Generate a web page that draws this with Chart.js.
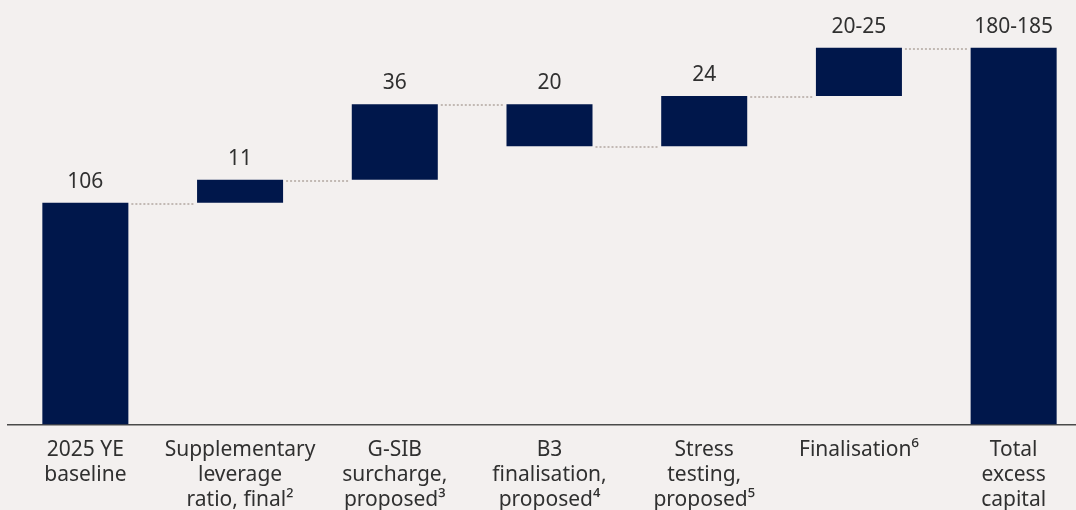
<!DOCTYPE html>
<html>
<head>
<meta charset="utf-8">
<script src="https://cdn.jsdelivr.net/npm/chart.js@4.4.1/dist/chart.umd.min.js"></script>
<style>
	html, body { margin: 0; padding: 0; background: #f3f0ef; overflow: hidden; }
	#wrap { width: 1100px; height: 526px; }
</style>
</head>
<body>
<div id="wrap"><canvas id="canvas1"></canvas></div>
<script>
// waterfall steps, left to right
var categories = [
	['2025 YE', 'baseline'],
	['Supplementary', 'leverage', 'ratio, final\u00b2'],
	['G-SIB', 'surcharge,', 'proposed\u00b3'],
	['B3', 'finalisation,', 'proposed\u2074'],
	['Stress', 'testing,', 'proposed\u2075'],
	['Finalisation\u2076'],
	['Total', 'excess', 'capital']
];
var changes = [106, 11, 36, -20, 24, 23];
var valueLabels = ['106', '11', '36', '20', '24', '20-25', '180-185'];

var barColor = '#00174b';
var textColor = '#303030';
var dotColor = '#c2b9b4';

// floating bars: [start, end] for each step, total from zero
var floats = [];
var levels = [];
var running = 0;
for (var i = 0; i < changes.length; i++)
{
	var start = (i == 0) ? 0 : running;
	running += changes[i];
	floats.push([Math.min(start, running), Math.max(start, running)]);
	levels.push(running);
}
floats.push([0, running]);

// dotted connectors between neighbouring bars
var connectors = {
	id: 'connectors',
	afterDatasetsDraw: function (chart) {
		var ctx = chart.ctx;
		var meta = chart.getDatasetMeta(0);
		var y = chart.scales.y;
		ctx.save();
		ctx.strokeStyle = dotColor;
		ctx.lineWidth = 2;
		ctx.setLineDash([2, 2]);
		for (var i = 0; i < levels.length; i++)
		{
			var a = meta.data[i], b = meta.data[i + 1];
			var py = Math.round(y.getPixelForValue(levels[i])) + 1;
			ctx.beginPath();
			ctx.moveTo(a.x + a.width / 2 + 3, py);
			ctx.lineTo(b.x - b.width / 2 - 3, py);
			ctx.stroke();
		}
		ctx.restore();
	}
};

// value labels above each bar
var valueText = {
	id: 'valueText',
	afterDatasetsDraw: function (chart) {
		var ctx = chart.ctx;
		var meta = chart.getDatasetMeta(0);
		ctx.save();
		ctx.fillStyle = textColor;
		ctx.font = '21px "Noto Sans"';
		ctx.textAlign = 'center';
		ctx.textBaseline = 'alphabetic';
		meta.data.forEach(function (bar, i) {
			var top = Math.min(bar.y, bar.base);
			ctx.fillText(valueLabels[i], bar.x, top - 15);
		});
		ctx.restore();
	}
};

function draw()
{
	new Chart(document.getElementById('canvas1'), {
		type: 'bar',
		data: {
			labels: categories,
			datasets: [{
				data: floats,
				backgroundColor: barColor,
				borderWidth: 0,
				barPercentage: 0.556,
				categoryPercentage: 1
			}]
		},
		options: {
			responsive: true,
			maintainAspectRatio: false,
			animation: false,
			layout: { padding: { left: 8, right: 9, top: 6, bottom: 0 } },
			plugins: {
				legend: { display: false },
				tooltip: { enabled: false }
			},
			scales: {
				x: {
					grid: { display: false, drawTicks: false },
					border: { display: true, color: '#4a4a4a', width: 1.5 },
					ticks: {
						color: textColor,
						autoSkip: false,
						maxRotation: 0,
						padding: 13,
						font: { family: '"Noto Sans"', size: 21, lineHeight: 1.2 }
					}
				},
				y: {
					display: false,
					min: 0,
					max: 200
				}
			}
		},
		plugins: [connectors, valueText]
	});
}

document.fonts.load('21px "Noto Sans"').then(draw, draw);
</script>
</body>
</html>
